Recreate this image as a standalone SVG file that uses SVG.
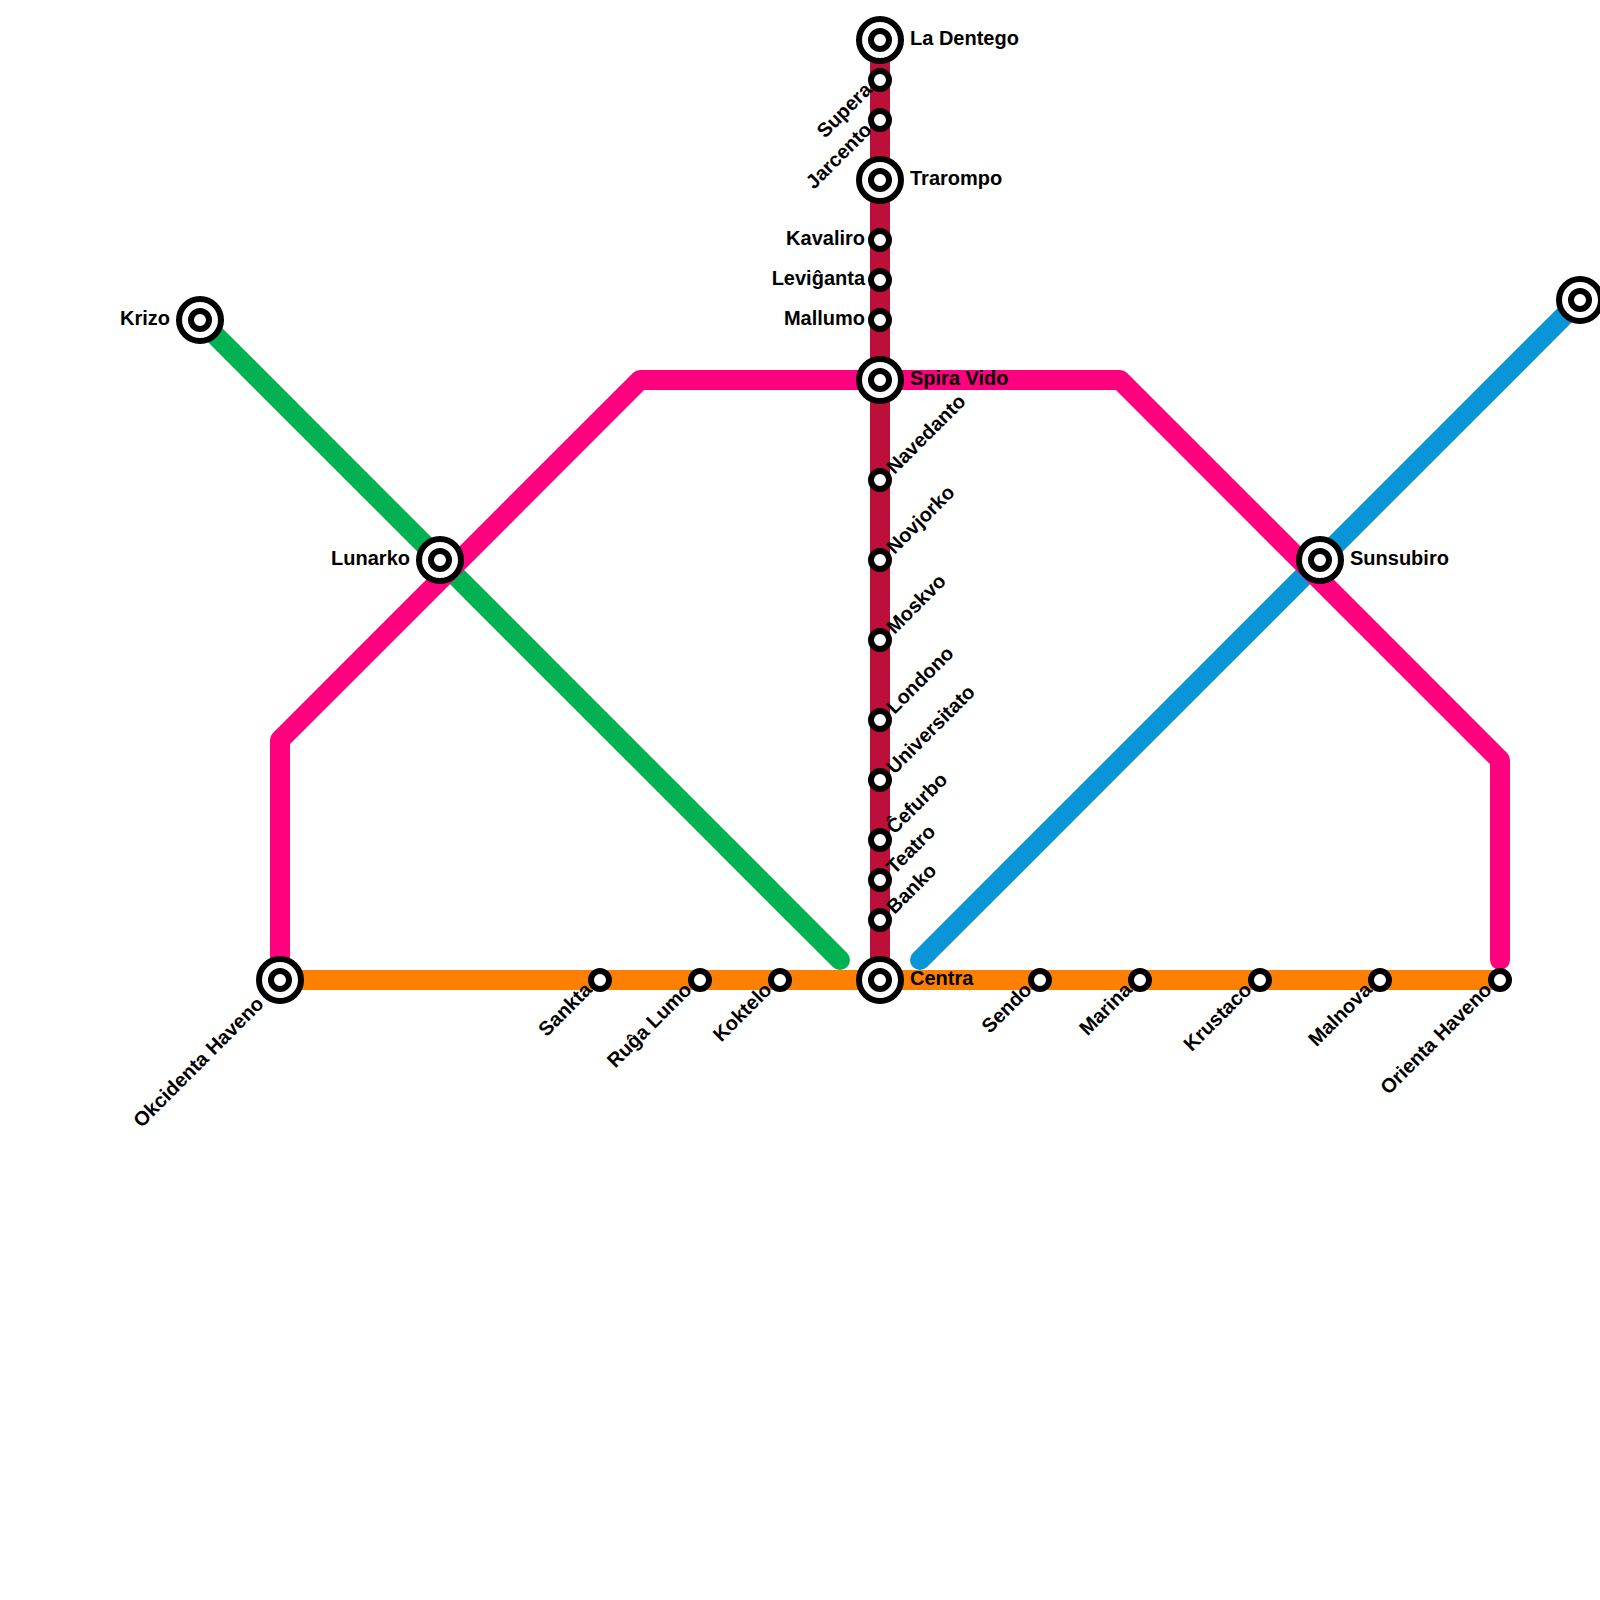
<svg xmlns="http://www.w3.org/2000/svg" width="1600" height="1600" viewBox="0 0 1600 1600">
<style>
.l{fill:none;stroke-width:20;stroke-linecap:round;stroke-linejoin:round}
.o{fill:#fff;stroke:#000;stroke-width:6}
text{font-family:"Liberation Sans",Arial,sans-serif;font-weight:700;font-size:20px;fill:#000}
.e{text-anchor:end}
</style>
<defs>
<g id="s"><circle class="o" r="9"/></g>
<g id="x"><circle class="o" r="21"/><circle class="o" r="9"/></g>
</defs>
<rect width="1600" height="1600" fill="#fff"/>
<g id="connectors">
<path class="l" stroke="#00b251" d="M200 320L840 960"/>
<path class="l" stroke="#0a96d6" d="M920 960L1580 300"/>
<path class="l" stroke="#ff007f" d="M280 960V740L640 380H1120L1500 760V960"/>
<path d="M870 40H890V980H870Z" fill="#bc0f39"/>
<path d="M280 970H1500V990H280Z" fill="#ff8000"/>
</g>
<g id="n1"><use href="#x" x="880" y="40"/><text x="910" y="45">La Dentego</text></g>
<g id="n2"><use href="#s" x="880" y="80"/><text class="e" transform="translate(873 91) rotate(-45)">Supera</text></g>
<g id="n3"><use href="#s" x="880" y="120"/><text class="e" transform="translate(873 131) rotate(-45)">Jarcento</text></g>
<g id="n4"><use href="#x" x="880" y="180"/><text x="910" y="185">Trarompo</text></g>
<g id="n5"><use href="#s" x="880" y="240"/><text class="e" x="865" y="245">Kavaliro</text></g>
<g id="n6"><use href="#s" x="880" y="280"/><text class="e" x="865" y="285">Leviĝanta</text></g>
<g id="n7"><use href="#s" x="880" y="320"/><text class="e" x="865" y="325">Mallumo</text></g>
<g id="n8"><use href="#x" x="880" y="380"/><text x="910" y="385">Spira Vido</text></g>
<g id="n9"><use href="#s" x="880" y="480"/><text transform="translate(894.5 475) rotate(-45)">Navedanto</text></g>
<g id="n10"><use href="#s" x="880" y="560"/><text transform="translate(894.5 555) rotate(-45)">Novjorko</text></g>
<g id="n11"><use href="#s" x="880" y="640"/><text transform="translate(894.5 635) rotate(-45)">Moskvo</text></g>
<g id="n12"><use href="#s" x="880" y="720"/><text transform="translate(894.5 715) rotate(-45)">Londono</text></g>
<g id="n13"><use href="#s" x="880" y="780"/><text transform="translate(894.5 775) rotate(-45)">Universitato</text></g>
<g id="n14"><use href="#s" x="880" y="840"/><text transform="translate(894.5 835) rotate(-45)">Ĉefurbo</text></g>
<g id="n15"><use href="#s" x="880" y="880"/><text transform="translate(894.5 875) rotate(-45)">Teatro</text></g>
<g id="n16"><use href="#s" x="880" y="920"/><text transform="translate(894.5 915) rotate(-45)">Banko</text></g>
<g id="n17"><use href="#x" x="880" y="980"/><text x="910" y="985">Centra</text></g>
<g id="n18"><use href="#x" x="280" y="980"/><text class="e" transform="translate(265 1005) rotate(-45)">Okcidenta Haveno</text></g>
<g id="n19"><use href="#s" x="600" y="980"/><text class="e" transform="translate(593 991) rotate(-45)">Sankta</text></g>
<g id="n20"><use href="#s" x="700" y="980"/><text class="e" transform="translate(693 991) rotate(-45)">Ruĝa Lumo</text></g>
<g id="n21"><use href="#s" x="780" y="980"/><text class="e" transform="translate(773 991) rotate(-45)">Koktelo</text></g>
<g id="n22"><use href="#s" x="1040" y="980"/><text class="e" transform="translate(1033 991) rotate(-45)">Sendo</text></g>
<g id="n23"><use href="#s" x="1140" y="980"/><text class="e" transform="translate(1133 991) rotate(-45)">Marina</text></g>
<g id="n24"><use href="#s" x="1260" y="980"/><text class="e" transform="translate(1253 991) rotate(-45)">Krustaco</text></g>
<g id="n25"><use href="#s" x="1380" y="980"/><text class="e" transform="translate(1373 991) rotate(-45)">Malnova</text></g>
<g id="n26"><use href="#s" x="1500" y="980"/><text class="e" transform="translate(1493 991) rotate(-45)">Orienta Haveno</text></g>
<g id="n27"><use href="#x" x="1320" y="560"/><text x="1350" y="565">Sunsubiro</text></g>
<g id="n28"><use href="#x" x="1580" y="300"/></g>
<g id="n29"><use href="#x" x="440" y="560"/><text class="e" x="410" y="565">Lunarko</text></g>
<g id="n30"><use href="#x" x="200" y="320"/><text class="e" x="170" y="325">Krizo</text></g>
</svg>
